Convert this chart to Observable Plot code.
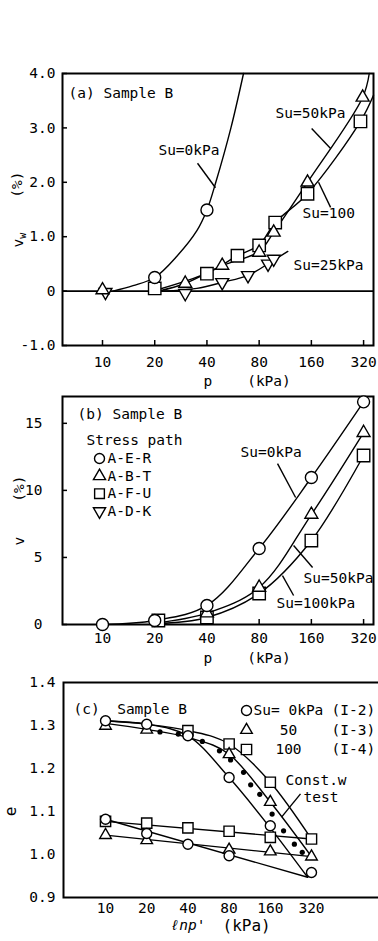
<!DOCTYPE html>
<html><head><meta charset="utf-8">
<script src="https://cdn.jsdelivr.net/npm/d3@7"></script>
<script src="https://cdn.jsdelivr.net/npm/@observablehq/plot@0.6"></script>
<style>
html,body{margin:0;padding:0;background:#fff;}
#fig{position:relative;width:378px;height:941px;overflow:hidden;background:#fff;}
</style></head><body><div id="fig"></div>
<script>
// ---------------- data ----------------
const pTicks = [10, 20, 40, 80, 160, 320];

// (a) vw (%) vs p (kPa)
const aYTicks = [-1, 0, 1, 2, 3, 4];
const aSu0Points = [[20, 0.25], [40, 1.49]];
const aSu50Points = [[10, 0.02], [30, 0.14], [49, 0.47], [80, 0.71], [97, 1.08], [152, 2.0], [316, 3.56]];
const aSu100Points = [[20, 0.05], [40, 0.32], [60, 0.65], [80, 0.84], [99, 1.26], [152, 1.79], [307, 3.12]];
const aSu25Points = [[10.4, -0.02], [30, -0.04], [49, 0.16], [69, 0.29], [90, 0.5], [97, 0.59]];
const aSu0Curve = [[11.5, 0], [15, 0.1], [20, 0.25], [27, 0.65], [35, 1.11], [40, 1.49], [45, 2.0], [55, 3.0], [65, 4.0]];
const aSu50Curve = [[21, 0], [30, 0.14], [49, 0.47], [80, 0.73], [97, 1.08], [152, 2.0], [316, 3.56], [345, 4.0]];
const aSu100Curve = [[21, 0.03], [40, 0.33], [60, 0.65], [80, 0.85], [99, 1.26], [152, 1.79], [307, 3.12], [365, 3.6]];
const aSu25Curve = [[22, 0], [35, 0.05], [49, 0.16], [69, 0.29], [95, 0.55], [117, 0.73]];

// (b) v (%) vs p (kPa)
const bYTicks = [0, 5, 10, 15];
const bSu0Points = [[10, 0], [20, 0.3], [40, 1.42], [80, 5.67], [160, 10.96], [320, 16.6]];
const bSu50Points = [[40, 0.85], [80, 2.76], [160, 8.2], [320, 14.3]];
const bSu100Points = [[21, 0.3], [40, 0.52], [80, 2.31], [160, 6.26], [320, 12.6]];
const bSu0Curve = [[10, 0], [20, 0.3], [40, 1.42], [80, 5.67], [160, 10.96], [320, 16.6]];
const bSu50Curve = [[20, 0.1], [40, 0.85], [80, 2.76], [160, 8.2], [320, 14.3]];
const bSu100Curve = [[20, 0.05], [40, 0.52], [80, 2.31], [160, 6.26], [320, 12.6]];
const stressPaths = ["A-E-R", "A-B-T", "A-F-U", "A-D-K"];

// (c) e vs ln p' (kPa)
const cYTicks = [0.9, 1.0, 1.1, 1.2, 1.3, 1.4];
const cSu0Load = [[10, 1.311], [20, 1.303], [40, 1.276], [80, 1.179], [160, 1.067], [320, 0.958]];
const cSu0Unload = [[80, 0.997], [40, 1.024], [20, 1.049], [10, 1.082]];
const cSu50Load = [[10, 1.299], [20, 1.290], [80, 1.233], [160, 1.122], [320, 0.995]];
const cSu50Unload = [[160, 1.007], [80, 1.011], [20, 1.033], [10, 1.045]];
const cSu100Load = [[40, 1.288], [80, 1.257], [160, 1.168], [320, 1.036]];
const cSu100Unload = [[160, 1.040], [80, 1.054], [40, 1.062], [20, 1.073], [10, 1.077]];
const cSu0LoadCurve = [[10, 1.311], [20, 1.303], [40, 1.276], [80, 1.179], [160, 1.062], [300, 0.947]];
const cSu0UnloadLine = [[300, 0.947], [10, 1.082]];
const cSu50LoadCurve = [[10, 1.305], [20, 1.291], [40, 1.272], [80, 1.233], [160, 1.122], [320, 0.995]];
const cSu50UnloadLine = [[320, 0.995], [10, 1.045]];
const cSu100LoadCurve = [[10, 1.311], [20, 1.303], [40, 1.288], [80, 1.257], [160, 1.168], [320, 1.036]];
const cSu100UnloadLine = [[320, 1.036], [10, 1.077]];
const cConstW = [[25, 1.285], [34, 1.280], [51, 1.263], [68, 1.241], [82, 1.220], [102, 1.191], [115, 1.162], [134, 1.140], [165, 1.094], [200, 1.055], [240, 1.024], [274, 1.005]];
const cLegendSu = ["Su=\u00A00kPa", "50", "100"];
const cLegendTest = ["(I-2)", "(I-3)", "(I-4)"];

// ---------------- helpers ----------------
const X = d => d[0], Y = d => d[1];
const FONT = "'DejaVu Sans Mono', 'Liberation Mono', monospace";
const style = {fontFamily: FONT, fontSize: "14.5px", color: "#000", background: "transparent", overflow: "visible", maxWidth: "none"};
const ink = {stroke: "black", strokeWidth: 1.4};
const triangleDown = {draw(context, size) {
  const s3 = Math.sqrt(3);
  const y = -Math.sqrt(size / (s3 * 3));
  context.moveTo(0, -y * 2);
  context.lineTo(-s3 * y, y);
  context.lineTo(s3 * y, y);
  context.closePath();
}};
const hollow = (data, symbol, r) => Plot.dot(data, {x: X, y: Y, symbol, r, fill: "white", stroke: "black", strokeWidth: 1.4});
const curve = (data, c = "catmull-rom") => Plot.line(data, {x: X, y: Y, curve: c, ...ink});
const note = (s, x, y, extra = {}) => Plot.text([s], {x, y, textAnchor: "start", lineAnchor: "middle", ...extra});
const leader = (x1, y1, x2, y2) => Plot.link([0], {x1, y1, x2, y2, ...ink});
const xLabels = dy => Plot.text(pTicks, {x: d => d, text: d => String(d), frameAnchor: "bottom", dy, lineAnchor: "middle", textAnchor: "middle"});
const nb = n => "\u00A0".repeat(n);

const fig = document.getElementById("fig");
function mount(svg, top) {
  const d = document.createElement("div");
  d.style.cssText = `position:absolute;left:0;top:${top}px;`;
  d.appendChild(svg);
  fig.appendChild(d);
}

// ---------------- (a) ----------------
const aYLabel = "vw" + nb(4) + "(%)";
const plotA = Plot.plot({
  width: 378, height: 392,
  marginLeft: 62, marginRight: 5, marginTop: 73, marginBottom: 47,
  style,
  x: {type: "log", domain: [5.88, 365], axis: null},
  y: {domain: [-1, 4], axis: null},
  marks: [
    Plot.frame({stroke: "black", strokeWidth: 2}),
    Plot.ruleY([0], {stroke: "black", strokeWidth: 1.8}),
    Plot.axisY(aYTicks, {tickSize: -5, tickPadding: 12, strokeWidth: 1.5, label: null, tickFormat: d => d === 0 ? "0" : d.toFixed(1)}),
    Plot.axisX(pTicks, {tickSize: -5, strokeWidth: 1.5, label: null, tickFormat: () => ""}),
    xLabels(17),
    curve(aSu0Curve), curve(aSu50Curve), curve(aSu100Curve), curve(aSu25Curve),
    hollow(aSu25Points, triangleDown, 4.8),
    hollow(aSu100Points, "square", 7),
    hollow(aSu50Points, "triangle", 4.8),
    hollow(aSu0Points, "circle", 6),
    Plot.text(["(a) Sample B"], {frameAnchor: "top-left", dx: 6, dy: 20, textAnchor: "start", lineAnchor: "middle"}),
    note("Su=0kPa", 21, 2.585), leader(35.3, 2.35, 44.8, 1.9),
    note("Su=50kPa", 99.5, 3.265), leader(160.6, 2.99, 206.5, 2.62),
    note("Su=100", 142.4, 1.43), leader(206.5, 1.54, 176, 2.0),
    note("Su=25kPa", 126.4, 0.47),
    Plot.text(["p" + nb(4) + "(kPa)"], {frameAnchor: "bottom-left", dx: 141, dy: 36, textAnchor: "start", lineAnchor: "middle"}),
    Plot.text([aYLabel], {frameAnchor: "left", dx: -44, rotate: -90, textAnchor: "middle", lineAnchor: "middle"})
  ]
});
d3.select(plotA).selectAll("text").filter(function () { return this.textContent === aYLabel; }).each(function () {
  const t = d3.select(this);
  t.text(null);
  t.append("tspan").text("v");
  t.append("tspan").attr("font-size", "10px").attr("dy", "0.3em").text("w");
  t.append("tspan").attr("dy", "-0.3em").text(nb(4) + "(%)");
});
mount(plotA, 0);

// ---------------- (b) ----------------
const legendSymbols = ["circle", "triangle", "square", triangleDown];
const legendR = [5, 4.5, 5.5, 4.5];
const plotB = Plot.plot({
  width: 378, height: 278,
  marginLeft: 62, marginRight: 5, marginTop: 4, marginBottom: 46,
  style,
  x: {type: "log", domain: [5.88, 365], axis: null},
  y: {domain: [0, 17], axis: null},
  marks: [
    Plot.frame({stroke: "black", strokeWidth: 2}),
    Plot.axisY(bYTicks, {tickSize: -5, tickPadding: 25, strokeWidth: 1.5, label: null, tickFormat: d => String(d)}),
    Plot.axisX(pTicks, {tickSize: -5, strokeWidth: 1.5, label: null, tickFormat: () => ""}),
    xLabels(14),
    curve(bSu0Curve), curve(bSu50Curve), curve(bSu100Curve),
    hollow(bSu100Points, "square", 7),
    hollow(bSu50Points, "triangle", 4.8),
    hollow(bSu0Points, "circle", 6),
    Plot.text(["(b) Sample B"], {frameAnchor: "top-left", dx: 15, dy: 18, textAnchor: "start", lineAnchor: "middle"}),
    Plot.text(["Stress path"], {frameAnchor: "top-left", dx: 24, dy: 44, textAnchor: "start", lineAnchor: "middle"}),
    ...stressPaths.flatMap((name, i) => [
      Plot.dot([name], {frameAnchor: "top-left", dx: 37, dy: 62 + i * 17.6, symbol: legendSymbols[i], r: legendR[i], fill: "white", stroke: "black", strokeWidth: 1.4}),
      Plot.text([name], {frameAnchor: "top-left", dx: 45, dy: 62 + i * 17.6, textAnchor: "start", lineAnchor: "middle"})
    ]),
    note("Su=0kPa", 62.5, 12.83), leader(102.1, 12.0, 129.8, 9.47),
    note("Su=50kPa", 144.2, 3.43), leader(162.6, 4.25, 126.4, 5.89),
    note("Su=100kPa", 100.8, 1.57), leader(126.4, 2.16, 109, 3.65),
    Plot.text(["p" + nb(4) + "(kPa)"], {frameAnchor: "bottom-left", dx: 141, dy: 34, textAnchor: "start", lineAnchor: "middle"}),
    Plot.text(["v" + nb(4) + "(%)"], {frameAnchor: "left", dx: -43, rotate: -90, textAnchor: "middle", lineAnchor: "middle"})
  ]
});
mount(plotB, 392);

// ---------------- (c) ----------------
const cSymbols = ["circle", "triangle", "square"];
const cLegendR = [5, 4.3, 5.8];
const plotC = Plot.plot({
  width: 384, height: 271,
  marginLeft: 63, marginRight: 2, marginTop: 12, marginBottom: 44,
  style,
  x: {type: "log", domain: [4.93, 1057], axis: null},
  y: {domain: [0.9, 1.4], axis: null},
  marks: [
    Plot.frame({stroke: "black", strokeWidth: 2}),
    Plot.axisY(cYTicks, {tickSize: 0, tickPadding: 8, label: null, tickFormat: d => d.toFixed(1)}),
    xLabels(11),
    curve(cSu0LoadCurve, "monotone-x"), curve(cSu0UnloadLine, "linear"),
    curve(cSu50LoadCurve, "monotone-x"), curve(cSu50UnloadLine, "linear"),
    curve(cSu100LoadCurve, "monotone-x"), curve(cSu100UnloadLine, "linear"),
    Plot.dot(cConstW, {x: X, y: Y, r: 2.6, fill: "black", stroke: "none"}),
    hollow(cSu100Load, "square", 5.8), hollow(cSu100Unload, "square", 5.8),
    hollow(cSu50Load, "triangle", 4.3), hollow(cSu50Unload, "triangle", 4.3),
    hollow(cSu0Load, "circle", 5), hollow(cSu0Unload, "circle", 5),
    Plot.text(["(c)" + nb(2) + "Sample B"], {frameAnchor: "top-left", dx: 10, dy: 27, textAnchor: "start", lineAnchor: "middle"}),
    ...cLegendSu.flatMap((s, i) => [
      Plot.dot([s], {frameAnchor: "top-left", dx: 183, dy: 28 + i * 19.5, symbol: cSymbols[i], r: cLegendR[i], fill: "white", stroke: "black", strokeWidth: 1.4}),
      Plot.text([s], {frameAnchor: "top-left", dx: i === 0 ? 190 : 225, dy: 28 + i * 19.5, textAnchor: i === 0 ? "start" : "middle", lineAnchor: "middle"}),
      Plot.text([cLegendTest[i]], {frameAnchor: "top-left", dx: 268, dy: 28 + i * 19.5, textAnchor: "start", lineAnchor: "middle"})
    ]),
    note("Const.w", 206.6, 1.172), note("test", 280, 1.1326), leader(266, 1.141, 193.3, 1.087),
    Plot.text(["\u2113np'"], {frameAnchor: "bottom-left", dx: 107, dy: 28, textAnchor: "start", lineAnchor: "middle", fontStyle: "italic"}),
    Plot.text(["(kPa)"], {frameAnchor: "bottom-left", dx: 159, dy: 28, textAnchor: "start", lineAnchor: "middle", fontSize: 16}),
    Plot.text(["e"], {y: [1.1], frameAnchor: "left", dx: -53, rotate: -90, textAnchor: "middle", lineAnchor: "middle", fontSize: 16})
  ]
});
mount(plotC, 670);
</script></body></html>
